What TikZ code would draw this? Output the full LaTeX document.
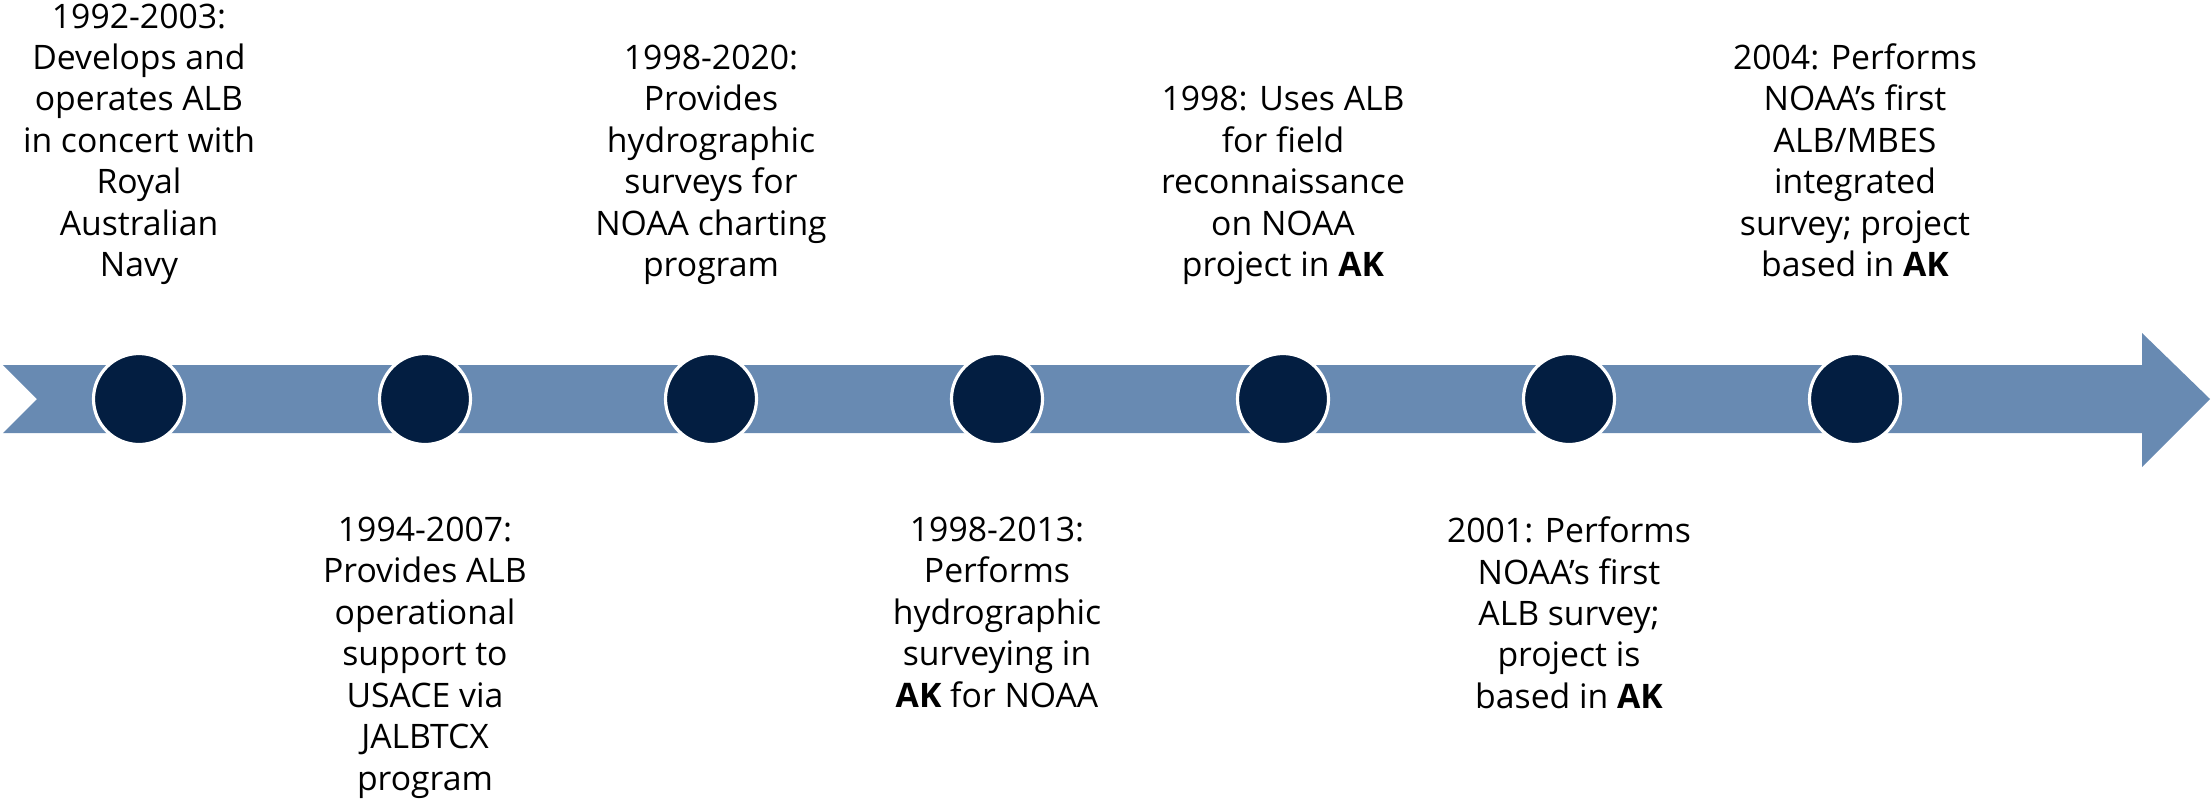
\documentclass[tikz,border=0pt]{standalone}
\usepackage{fontspec}
\setmainfont{Open Sans}
\usepackage{xcolor}

\definecolor{bandblue}{RGB}{104,138,178}
\definecolor{dotnavy}{RGB}{3,30,65}

\begin{document}
\begin{tikzpicture}[
    dot/.style={circle, fill=dotnavy, draw=white, line width=0.9pt, minimum size=0.91cm, inner sep=0pt},
    uptext/.style={anchor=south, align=center, inner sep=0pt, font=\fontsize{9.6}{11.8}\selectfont, execute at end node=\strut},
    downtext/.style={anchor=north, align=center, inner sep=0pt, font=\fontsize{9.6}{11.8}\selectfont, execute at begin node=\strut},
]
\useasboundingbox (0,0) rectangle (22.11,8.04);

% band with notched tail and arrow head
\fill[bandblue] (0.03,4.39) -- (21.42,4.39) -- (21.42,4.71) -- (22.10,4.05)
    -- (21.42,3.37) -- (21.42,3.71) -- (0.03,3.71) -- (0.37,4.05) -- cycle;

% milestones
\node[dot] (d1) at (1.39, 4.05)  {};
\node[dot] (d2) at (4.25, 4.05)  {};
\node[dot] (d3) at (7.11, 4.05)  {};
\node[dot] (d4) at (9.97, 4.05)  {};
\node[dot] (d5) at (12.83, 4.05) {};
\node[dot] (d6) at (15.69, 4.05) {};
\node[dot] (d7) at (18.55, 4.05) {};

% labels above the band
\node[uptext] (t1) at (1.39, 5.14)  {1992-2003:\\Develops and\\operates ALB\\in concert with\\Royal\\Australian\\Navy};
\node[uptext] (t3) at (7.11, 5.14)  {1998-2020:\\Provides\\hydrographic\\surveys for\\NOAA charting\\program};
\node[uptext] (t5) at (12.83, 5.14) {1998: Uses ALB\\for field\\reconnaissance\\on NOAA\\project in \textbf{AK}};
\node[uptext] (t7) at (18.55, 5.14) {2004: Performs\\NOAA’s first\\ALB/MBES\\integrated\\survey; project\\based in \textbf{AK}};

% labels below the band
\node[downtext] (t2) at (4.25, 2.88)  {1994-2007:\\Provides ALB\\operational\\support to\\USACE via\\JALBTCX\\program};
\node[downtext] (t4) at (9.97, 2.88)  {1998-2013:\\Performs\\hydrographic\\surveying in\\\textbf{AK} for NOAA};
\node[downtext] (t6) at (15.69, 2.88) {2001: Performs\\NOAA’s first\\ALB survey;\\project is\\based in \textbf{AK}};

\end{tikzpicture}
\end{document}
